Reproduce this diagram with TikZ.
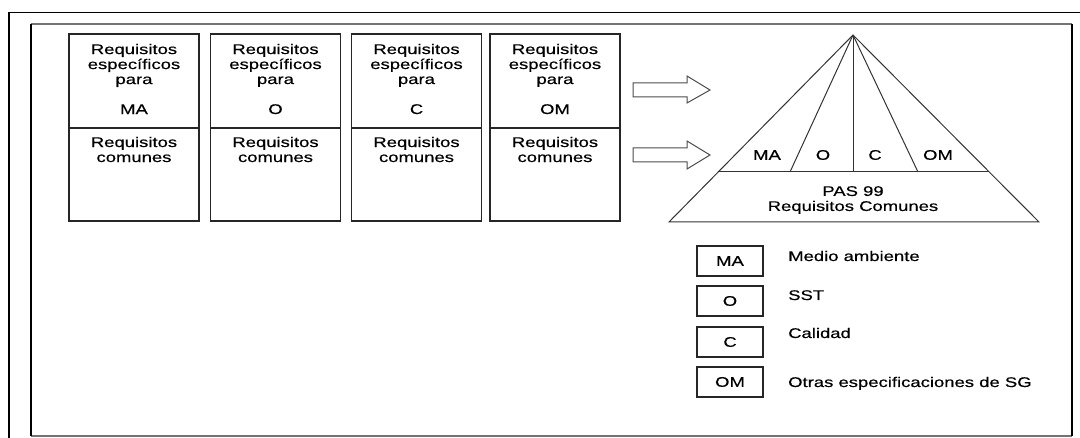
\documentclass[tikz,border=0pt]{standalone}
\usepackage{fontspec}
\setmainfont{Liberation Sans}[FakeStretch=1.32,FakeBold=0.4]
\begin{document}
\begin{tikzpicture}[x=1pt,y=-1pt,
  font=\fontsize{14}{15}\selectfont,
  frame/.style={draw=black,line width=1.4pt},
  cell/.style={draw=black!85,line width=1.2pt,rectangle,inner sep=0pt,minimum width=130pt},
  txt/.style={inner sep=0pt,align=center,text=black},
  pyr/.style={draw=black!80,line width=1pt},
  blockarrow/.style={draw=black!70,line width=1pt,line join=miter},
  legbox/.style={draw=black!85,line width=1.1pt,rectangle,minimum width=66pt,minimum height=30pt,inner sep=0pt}
]
\useasboundingbox (0,0) rectangle (1080,438);
% outer frame (top and left edges visible)
\draw[frame] (9,440) -- (9,12.5) -- (1082,12.5);
% inner frame
\draw[draw=black!55,line width=1.4pt] (31,24) -- (1072,24);
\draw[draw=black!55,line width=1.4pt] (31,436) -- (1072,436);
\draw[frame] (31,24) -- (31,436);
\draw[frame] (1072,24) -- (1072,436);

% four requirement columns
\foreach \i/\cx/\lab in {1/134/MA,2/275.5/O,3/416.5/C,4/555/OM}{
  \node[cell,minimum height=94pt] (top\i) at (\cx,81) {};
  \node[cell,minimum height=93pt] (bot\i) at (\cx,174.5) {};
  \node[txt] (ttxt\i) at (\cx,79) {Requisitos\\específicos\\para\\[15pt]\lab};
  \node[txt] (btxt\i) at (\cx,149.5) {Requisitos\\comunes};
}

% block arrows
\draw[blockarrow] (633,83) -- (687,83) -- (687,76) -- (710,90) -- (687,103) -- (687,97) -- (633,97) -- cycle;
\draw[blockarrow] (633,148) -- (687,148) -- (687,141) -- (710,155) -- (687,169) -- (687,162) -- (633,162) -- cycle;

% pyramid
\coordinate (apex) at (853,35);
\coordinate (bl) at (669,222);
\coordinate (br) at (1039,222);
\coordinate (dl) at (718,172);
\coordinate (dr) at (989,172);
\coordinate (d1) at (790,172);
\coordinate (d2) at (853,172);
\coordinate (d3) at (918,172);
\draw[pyr] (apex) -- (bl) -- (br) -- cycle;
\draw[pyr] (dl) -- (dr);
\draw[pyr] (apex) -- (d1);
\draw[pyr] (apex) -- (d2);
\draw[pyr] (apex) -- (d3);
\node[txt] (pma) at (767,155) {MA};
\node[txt] (po) at (823,155) {O};
\node[txt] (pc) at (875,155) {C};
\node[txt] (pom) at (938,155) {OM};
\node[txt] (pas) at (853,200) {PAS 99\\Requisitos Comunes};

% legend
\node[legbox] (lma) at (730,261) {MA};
\node[legbox] (lo) at (730,301) {O};
\node[legbox] (lc) at (730,342) {C};
\node[legbox] (lom) at (730,382) {OM};
\node[txt,anchor=base west] (tma) at (788,261) {Medio ambiente};
\node[txt,anchor=base west] (to) at (788,300) {SST};
\node[txt,anchor=base west] (tc) at (788,338) {Calidad};
\node[txt,anchor=base west] (tom) at (788,387) {Otras especificaciones de SG};
\end{tikzpicture}
\end{document}
